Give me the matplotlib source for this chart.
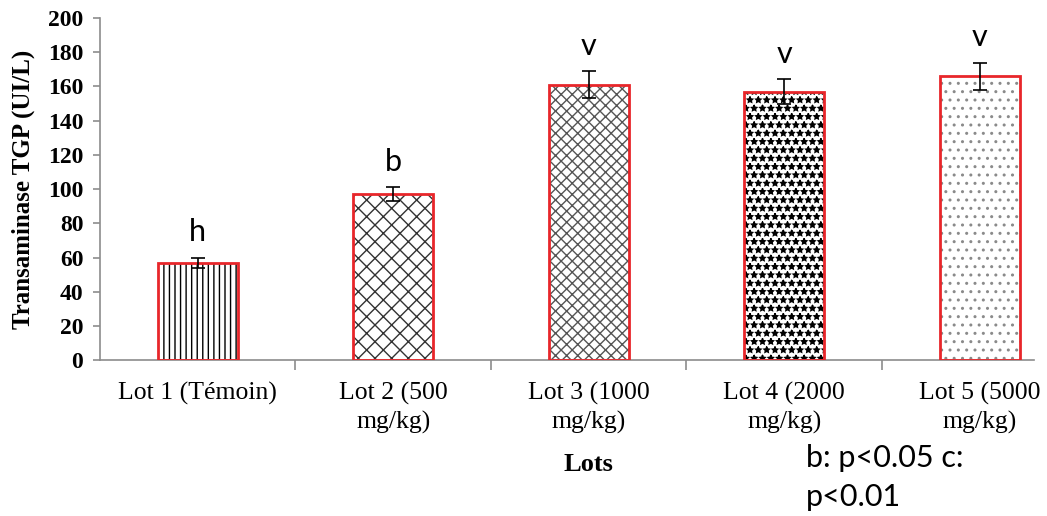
import matplotlib.pyplot as plt
from matplotlib.transforms import blended_transform_factory

lots = ["Lot 1 (Témoin)", "Lot 2 (500\nmg/kg)", "Lot 3 (1000\nmg/kg)",
        "Lot 4 (2000\nmg/kg)", "Lot 5 (5000\nmg/kg)"]
tgp_mean = [57, 97, 161, 157, 166]
tgp_err = [3, 4, 8, 7.5, 8]
sig_letters = ["h", "b", "v", "v", "v"]
y_ticks = [0, 20, 40, 60, 80, 100, 120, 140, 160, 180, 200]

hatches = ["|||", "xx", "xxx", "**", ".."]
hatch_colors = ["black", "#333333", "#555555", "black", "#8a8a8a"]
grey = "#8c8c8c"

fig = plt.figure(figsize=(10.47, 5.16), dpi=100)
ax = fig.add_axes([0.0955, 0.302, 0.8925, 0.663])

x = list(range(len(lots)))
for i in x:
    # hatch takes its colour from the edge, so the red frame goes on a second bar
    ax.bar(i, tgp_mean[i], width=0.41, color="white", edgecolor=hatch_colors[i],
           hatch=hatches[i], linewidth=0, zorder=2)
ax.bar(x, tgp_mean, width=0.41, fill=False, edgecolor="#e8262a", linewidth=2, zorder=3)
ax.errorbar(x, tgp_mean, yerr=tgp_err, fmt="none", ecolor="black",
            elinewidth=1.2, capsize=5, capthick=1.2, zorder=4)

for i in x:
    ax.text(i, tgp_mean[i] + tgp_err[i] + 6.5, sig_letters[i], ha="center", va="bottom",
            fontsize=22, family="Lato", color="black")

ax.set_xlim(-0.5, 4.28)
ax.set_ylim(0, 200)

ax.spines["top"].set_visible(False)
ax.spines["right"].set_visible(False)
ax.spines["left"].set_color(grey)
ax.spines["bottom"].set_color(grey)
ax.spines["left"].set_linewidth(1.2)
ax.spines["bottom"].set_linewidth(1.2)

ax.set_xticks(x)
ax.set_xticklabels(lots, fontsize=18.5, family="Liberation Serif", linespacing=1.3)
ax.set_xticks([k - 0.5 for k in range(1, 5)], minor=True)
ax.tick_params(axis="x", which="major", length=0, pad=16)
ax.tick_params(axis="x", which="minor", length=7, color=grey, width=1.2)

ax.set_yticks(y_ticks)
ax.set_yticklabels([str(v) for v in y_ticks], fontsize=17, family="Liberation Serif",
                   fontweight="bold")
ax.tick_params(axis="y", length=5, color=grey, width=1.2, pad=7)
ax.set_ylabel("Transaminase TGP (UI/L)", fontsize=18, family="Liberation Serif",
              fontweight="bold", labelpad=9)

trans = blended_transform_factory(ax.transData, fig.transFigure)
ax.text(2, 0.0872, "Lots", transform=trans, ha="center", va="baseline", fontsize=19,
        family="Liberation Serif", fontweight="bold")
fig.text(0.770, 0.095, "b: p<0.05 c:", ha="left", va="baseline", fontsize=22, family="Lato")
fig.text(0.770, 0.020, "p<0.01", ha="left", va="baseline", fontsize=22, family="Lato")

fig.savefig("out.png", dpi=100)
